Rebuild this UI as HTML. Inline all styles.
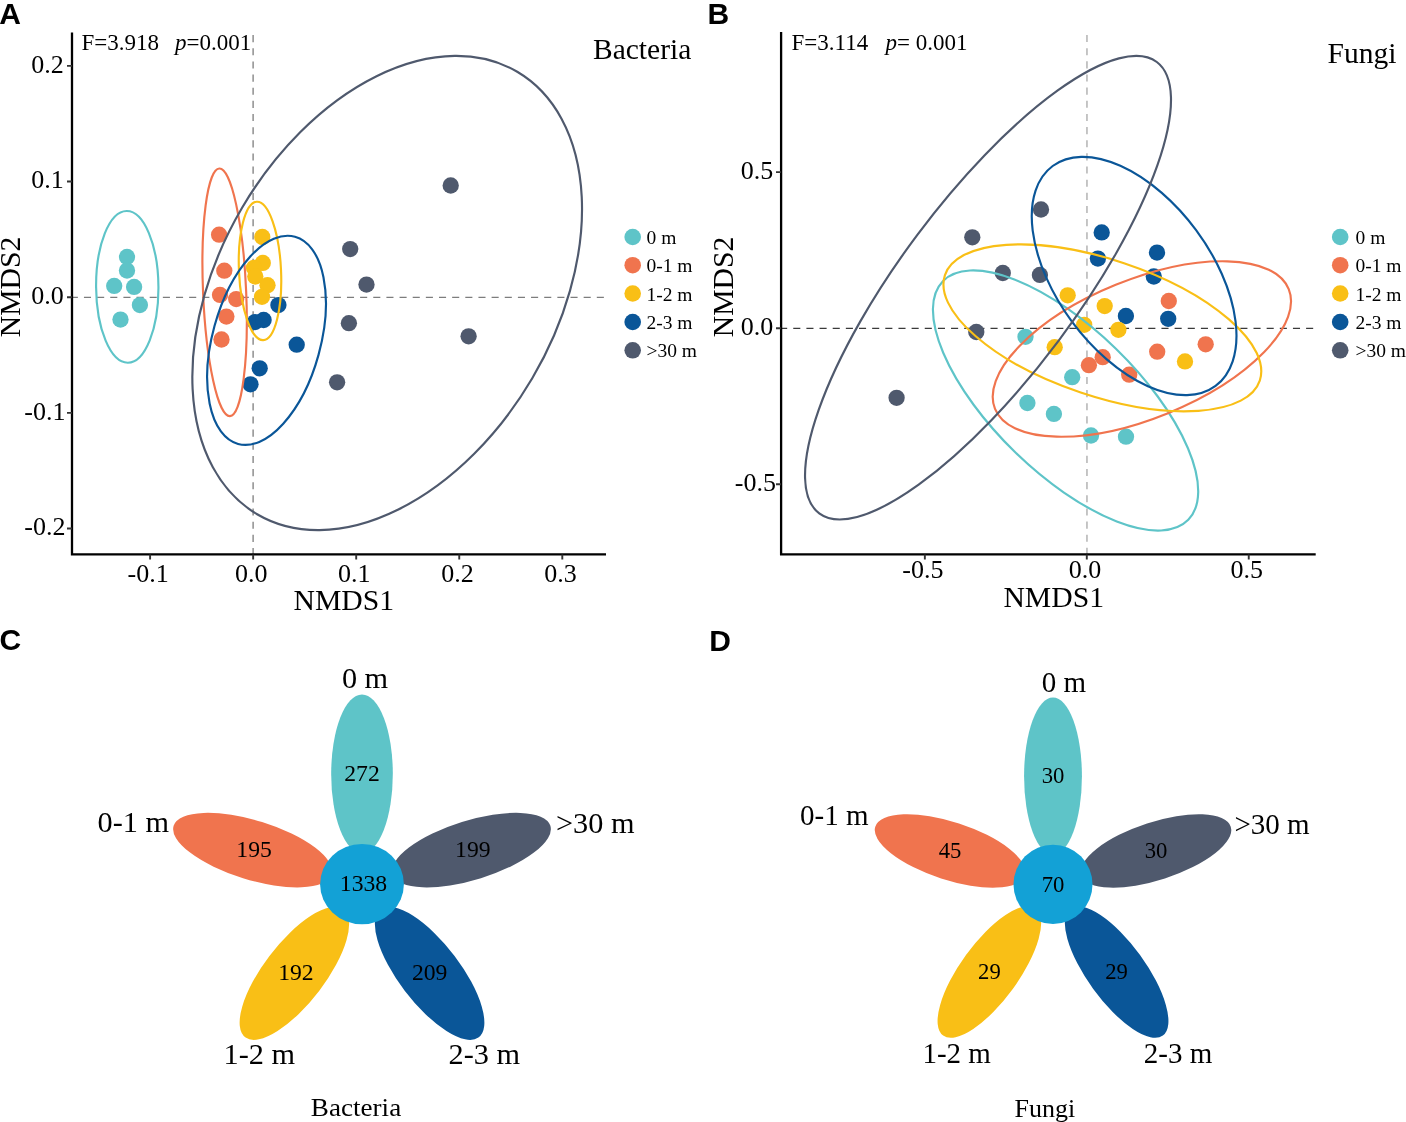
<!DOCTYPE html><html><head><meta charset="utf-8"><title>NMDS and flower plots</title><style>html,body{margin:0;padding:0;background:#fff;overflow:hidden;}svg{display:block;will-change:transform;}</style></head><body>
<svg width="1406" height="1122" viewBox="0 0 1406 1122">
<rect width="1406" height="1122" fill="#fff"/>
<g font-family="&quot;Liberation Sans&quot;, sans-serif" font-weight="700" font-size="30" fill="#000">
<text x="-0.8" y="24.3">A</text><text x="707.6" y="23.9">B</text><text x="-0.6" y="650.3">C</text><text x="709.2" y="650.6">D</text></g>
<line x1="70.8" y1="297.4" x2="604" y2="297.4" stroke="#7d7d7d" stroke-width="1.3" stroke-dasharray="7.08 6.07"/>
<line x1="253.1" y1="35.1" x2="253.1" y2="554" stroke="#7d7d7d" stroke-width="1.3" stroke-dasharray="7.08 6.07"/>
<circle cx="127.0" cy="257.0" r="8.15" fill="#5EC4C8"/><circle cx="127.0" cy="270.6" r="8.15" fill="#5EC4C8"/><circle cx="114.2" cy="285.9" r="8.15" fill="#5EC4C8"/><circle cx="134.1" cy="286.9" r="8.15" fill="#5EC4C8"/><circle cx="139.9" cy="305.1" r="8.15" fill="#5EC4C8"/><circle cx="120.5" cy="319.6" r="8.15" fill="#5EC4C8"/><circle cx="219.1" cy="234.7" r="8.15" fill="#F0744E"/><circle cx="224.3" cy="270.7" r="8.15" fill="#F0744E"/><circle cx="220.0" cy="294.9" r="8.15" fill="#F0744E"/><circle cx="236.2" cy="299.1" r="8.15" fill="#F0744E"/><circle cx="226.4" cy="316.6" r="8.15" fill="#F0744E"/><circle cx="221.5" cy="339.5" r="8.15" fill="#F0744E"/><circle cx="262.3" cy="237.0" r="8.15" fill="#F9BF16"/><circle cx="262.8" cy="262.9" r="8.15" fill="#F9BF16"/><circle cx="254.0" cy="267.8" r="8.15" fill="#F9BF16"/><circle cx="255.3" cy="276.6" r="8.15" fill="#F9BF16"/><circle cx="267.5" cy="285.2" r="8.15" fill="#F9BF16"/><circle cx="262.0" cy="296.8" r="8.15" fill="#F9BF16"/><circle cx="278.4" cy="305.1" r="8.15" fill="#0A5698"/><circle cx="255.0" cy="322.1" r="8.15" fill="#0A5698"/><circle cx="263.6" cy="320.0" r="8.15" fill="#0A5698"/><circle cx="296.7" cy="344.7" r="8.15" fill="#0A5698"/><circle cx="259.7" cy="368.3" r="8.15" fill="#0A5698"/><circle cx="250.5" cy="384.3" r="8.15" fill="#0A5698"/><circle cx="450.7" cy="185.5" r="8.15" fill="#4F596D"/><circle cx="350.2" cy="249.1" r="8.15" fill="#4F596D"/><circle cx="366.5" cy="284.6" r="8.15" fill="#4F596D"/><circle cx="348.9" cy="323.2" r="8.15" fill="#4F596D"/><circle cx="468.6" cy="336.3" r="8.15" fill="#4F596D"/><circle cx="337.1" cy="382.3" r="8.15" fill="#4F596D"/>
<ellipse cx="127.26" cy="286.88" rx="31.17" ry="75.87" transform="rotate(179.55 127.26 286.88)" fill="none" stroke="#5EC4C8" stroke-width="2.15"/><ellipse cx="224.62" cy="292.32" rx="21.55" ry="123.89" transform="rotate(177.54 224.62 292.32)" fill="none" stroke="#F0744E" stroke-width="2.15"/><ellipse cx="260.01" cy="270.94" rx="21.03" ry="69.25" transform="rotate(177.36 260.01 270.94)" fill="none" stroke="#F9BF16" stroke-width="2.15"/><ellipse cx="266.54" cy="340.33" rx="53.98" ry="107.43" transform="rotate(-164.64 266.54 340.33)" fill="none" stroke="#0A5698" stroke-width="2.15"/><ellipse cx="387.18" cy="293.02" rx="168.30" ry="256.62" transform="rotate(-149.55 387.18 293.02)" fill="none" stroke="#4F596D" stroke-width="2.15"/>
<path d="M72 32.4 V554.4 H606" fill="none" stroke="#000" stroke-width="2.3"/>
<path d="M67 65.90 H72 M67 181.55 H72 M67 297.20 H72 M67 412.85 H72 M67 528.50 H72 M150.10 554.4 V559.5 M253.15 554.4 V559.5 M356.20 554.4 V559.5 M459.25 554.4 V559.5 M562.30 554.4 V559.5 " stroke="#333" stroke-width="1.9" fill="none"/>
<g font-family="&quot;Liberation Serif&quot;, serif" font-size="26" fill="#000">
<text x="63.8" y="72.7" text-anchor="end">0.2</text>
<text x="63.8" y="188.3" text-anchor="end">0.1</text>
<text x="63.8" y="304.0" text-anchor="end">0.0</text>
<text x="65.4" y="419.7" text-anchor="end">-0.1</text>
<text x="65.4" y="535.3" text-anchor="end">-0.2</text>
<text x="148.2" y="582.2" text-anchor="middle">-0.1</text>
<text x="251.2" y="582.2" text-anchor="middle">0.0</text>
<text x="354.3" y="582.2" text-anchor="middle">0.1</text>
<text x="457.4" y="582.2" text-anchor="middle">0.2</text>
<text x="560.4" y="582.2" text-anchor="middle">0.3</text>
</g>
<text font-family="&quot;Liberation Serif&quot;, serif" font-size="29.7" x="343.8" y="609.8" text-anchor="middle">NMDS1</text>
<text font-family="&quot;Liberation Serif&quot;, serif" font-size="29.7" transform="translate(19.9 287) rotate(-90)" text-anchor="middle">NMDS2</text>
<text font-family="&quot;Liberation Serif&quot;, serif" font-size="23" x="81.5" y="50.3">F=3.918</text>
<text font-family="&quot;Liberation Serif&quot;, serif" font-size="23" x="175" y="50.3"><tspan font-style="italic">p</tspan>=0.001</text>
<text font-family="&quot;Liberation Serif&quot;, serif" font-size="29.5" x="593" y="59.1">Bacteria</text>
<circle cx="632.7" cy="237.0" r="8.3" fill="#5EC4C8"/>
<text font-family="&quot;Liberation Serif&quot;, serif" font-size="19.5" x="646.5" y="244.0">0 m</text>
<circle cx="632.7" cy="265.2" r="8.3" fill="#F0744E"/>
<text font-family="&quot;Liberation Serif&quot;, serif" font-size="19.5" x="646.5" y="272.2">0-1 m</text>
<circle cx="632.7" cy="293.5" r="8.3" fill="#F9BF16"/>
<text font-family="&quot;Liberation Serif&quot;, serif" font-size="19.5" x="646.5" y="300.5">1-2 m</text>
<circle cx="632.7" cy="322.0" r="8.3" fill="#0A5698"/>
<text font-family="&quot;Liberation Serif&quot;, serif" font-size="19.5" x="646.5" y="329.0">2-3 m</text>
<circle cx="632.7" cy="350.3" r="8.3" fill="#4F596D"/>
<text font-family="&quot;Liberation Serif&quot;, serif" font-size="19.5" x="646.5" y="357.3">&gt;30 m</text>
<line x1="780.1" y1="328.4" x2="1315" y2="328.4" stroke="#3a3a3a" stroke-width="1.3" stroke-dasharray="7.08 6.07"/>
<line x1="1086.95" y1="35.0" x2="1086.95" y2="554" stroke="#b8b8b8" stroke-width="1.6" stroke-dasharray="7.08 6.07"/>
<circle cx="1041.0" cy="209.5" r="8.15" fill="#4F596D"/><circle cx="972.3" cy="237.3" r="8.15" fill="#4F596D"/><circle cx="1002.8" cy="273.0" r="8.15" fill="#4F596D"/><circle cx="1039.9" cy="274.9" r="8.15" fill="#4F596D"/><circle cx="976.3" cy="332.0" r="8.15" fill="#4F596D"/><circle cx="896.6" cy="397.8" r="8.15" fill="#4F596D"/><circle cx="1101.7" cy="232.4" r="8.15" fill="#0A5698"/><circle cx="1097.9" cy="258.6" r="8.15" fill="#0A5698"/><circle cx="1157.0" cy="252.6" r="8.15" fill="#0A5698"/><circle cx="1153.8" cy="276.5" r="8.15" fill="#0A5698"/><circle cx="1125.9" cy="316.0" r="8.15" fill="#0A5698"/><circle cx="1168.2" cy="318.8" r="8.15" fill="#0A5698"/><circle cx="1067.7" cy="295.3" r="8.15" fill="#F9BF16"/><circle cx="1104.7" cy="306.1" r="8.15" fill="#F9BF16"/><circle cx="1084.2" cy="324.8" r="8.15" fill="#F9BF16"/><circle cx="1118.4" cy="329.8" r="8.15" fill="#F9BF16"/><circle cx="1054.7" cy="347.2" r="8.15" fill="#F9BF16"/><circle cx="1185.0" cy="361.4" r="8.15" fill="#F9BF16"/><circle cx="1168.8" cy="301.0" r="8.15" fill="#F0744E"/><circle cx="1205.7" cy="344.3" r="8.15" fill="#F0744E"/><circle cx="1157.2" cy="351.7" r="8.15" fill="#F0744E"/><circle cx="1102.7" cy="357.2" r="8.15" fill="#F0744E"/><circle cx="1088.9" cy="365.2" r="8.15" fill="#F0744E"/><circle cx="1129.2" cy="374.7" r="8.15" fill="#F0744E"/><circle cx="1025.5" cy="336.8" r="8.15" fill="#5EC4C8"/><circle cx="1072.2" cy="377.2" r="8.15" fill="#5EC4C8"/><circle cx="1027.4" cy="403.0" r="8.15" fill="#5EC4C8"/><circle cx="1053.9" cy="413.9" r="8.15" fill="#5EC4C8"/><circle cx="1091.0" cy="435.5" r="8.15" fill="#5EC4C8"/><circle cx="1126.0" cy="436.7" r="8.15" fill="#5EC4C8"/>
<ellipse cx="1065.57" cy="400.50" rx="171.14" ry="72.23" transform="rotate(-135.81 1065.57 400.50)" fill="none" stroke="#5EC4C8" stroke-width="2.15"/><ellipse cx="1141.87" cy="349.00" rx="158.59" ry="69.26" transform="rotate(157.82 1141.87 349.00)" fill="none" stroke="#F0744E" stroke-width="2.15"/><ellipse cx="1102.36" cy="327.83" rx="68.19" ry="166.02" transform="rotate(108.52 1102.36 327.83)" fill="none" stroke="#F9BF16" stroke-width="2.15"/><ellipse cx="1134.12" cy="275.99" rx="136.86" ry="77.14" transform="rotate(-126.52 1134.12 275.99)" fill="none" stroke="#0A5698" stroke-width="2.15"/><ellipse cx="988.02" cy="287.69" rx="88.26" ry="281.83" transform="rotate(-143.21 988.02 287.69)" fill="none" stroke="#4F596D" stroke-width="2.15"/>
<path d="M781.1 32 V554.4 H1315.7" fill="none" stroke="#000" stroke-width="2.3"/>
<path d="M776 172.10 H781 M776 328.20 H781 M776 484.30 H781 M924.85 554.4 V559.4 M1086.80 554.4 V559.4 M1248.75 554.4 V559.4 " stroke="#333" stroke-width="1.9" fill="none"/>
<g font-family="&quot;Liberation Serif&quot;, serif" font-size="26" fill="#000">
<text x="773.3" y="178.5" text-anchor="end">0.5</text>
<text x="773.3" y="334.6" text-anchor="end">0.0</text>
<text x="775.9" y="490.7" text-anchor="end">-0.5</text>
<text x="922.9" y="578.4" text-anchor="middle">-0.5</text>
<text x="1084.9" y="578.4" text-anchor="middle">0.0</text>
<text x="1246.8" y="578.4" text-anchor="middle">0.5</text>
</g>
<text font-family="&quot;Liberation Serif&quot;, serif" font-size="29.7" x="1053.7" y="606.6" text-anchor="middle">NMDS1</text>
<text font-family="&quot;Liberation Serif&quot;, serif" font-size="29.7" transform="translate(733.3 287) rotate(-90)" text-anchor="middle">NMDS2</text>
<text font-family="&quot;Liberation Serif&quot;, serif" font-size="23" x="791.5" y="50">F=3.114</text>
<text font-family="&quot;Liberation Serif&quot;, serif" font-size="23" x="885.5" y="50"><tspan font-style="italic">p</tspan>= 0.001</text>
<text font-family="&quot;Liberation Serif&quot;, serif" font-size="29.5" x="1327.5" y="63.3">Fungi</text>
<circle cx="1340.2" cy="237.0" r="8.3" fill="#5EC4C8"/>
<text font-family="&quot;Liberation Serif&quot;, serif" font-size="19.5" x="1355.5" y="244.0">0 m</text>
<circle cx="1340.2" cy="265.2" r="8.3" fill="#F0744E"/>
<text font-family="&quot;Liberation Serif&quot;, serif" font-size="19.5" x="1355.5" y="272.2">0-1 m</text>
<circle cx="1340.2" cy="293.5" r="8.3" fill="#F9BF16"/>
<text font-family="&quot;Liberation Serif&quot;, serif" font-size="19.5" x="1355.5" y="300.5">1-2 m</text>
<circle cx="1340.2" cy="322.0" r="8.3" fill="#0A5698"/>
<text font-family="&quot;Liberation Serif&quot;, serif" font-size="19.5" x="1355.5" y="329.0">2-3 m</text>
<circle cx="1340.2" cy="350.3" r="8.3" fill="#4F596D"/>
<text font-family="&quot;Liberation Serif&quot;, serif" font-size="19.5" x="1355.5" y="357.3">&gt;30 m</text>
<g transform="translate(362.0 884.15) scale(1.044 1)"><ellipse cx="110.2" cy="0" rx="79.44" ry="29.52" fill="#5EC4C8" transform="rotate(-90)"/><ellipse cx="110.2" cy="0" rx="79.44" ry="29.52" fill="#F0744E" transform="rotate(-162)"/><ellipse cx="110.2" cy="0" rx="79.44" ry="29.52" fill="#F9BF16" transform="rotate(-234)"/><ellipse cx="110.2" cy="0" rx="79.44" ry="29.52" fill="#0A5698" transform="rotate(-306)"/><ellipse cx="110.2" cy="0" rx="79.44" ry="29.52" fill="#4F596D" transform="rotate(-18)"/><ellipse cx="0" cy="0" rx="40.13" ry="40.15" fill="#13A1D6"/><text x="0.0" y="-103.5" text-anchor="middle" font-family="&quot;Liberation Serif&quot;, serif" font-size="22.7">272</text><text x="-103.4" y="-27.4" text-anchor="middle" font-family="&quot;Liberation Serif&quot;, serif" font-size="22.7">195</text><text x="-63.3" y="95.9" text-anchor="middle" font-family="&quot;Liberation Serif&quot;, serif" font-size="22.7">192</text><text x="64.8" y="95.9" text-anchor="middle" font-family="&quot;Liberation Serif&quot;, serif" font-size="22.7">209</text><text x="106.2" y="-27.4" text-anchor="middle" font-family="&quot;Liberation Serif&quot;, serif" font-size="22.7">199</text><text x="1.4" y="7.2" text-anchor="middle" font-family="&quot;Liberation Serif&quot;, serif" font-size="22.7">1338</text></g>
<g transform="translate(1053.0 884.4) scale(1.0 1)"><ellipse cx="108.25" cy="0" rx="78.63" ry="28.92" fill="#5EC4C8" transform="rotate(-90)"/><ellipse cx="108.25" cy="0" rx="78.63" ry="28.92" fill="#F0744E" transform="rotate(-162)"/><ellipse cx="108.25" cy="0" rx="78.63" ry="28.92" fill="#F9BF16" transform="rotate(-234)"/><ellipse cx="108.25" cy="0" rx="78.63" ry="28.92" fill="#0A5698" transform="rotate(-306)"/><ellipse cx="108.25" cy="0" rx="78.63" ry="28.92" fill="#4F596D" transform="rotate(-18)"/><ellipse cx="0" cy="0" rx="39.50" ry="39.7" fill="#13A1D6"/><text x="0.0" y="-101.5" text-anchor="middle" font-family="&quot;Liberation Serif&quot;, serif" font-size="22.7">30</text><text x="-103.0" y="-26.8" text-anchor="middle" font-family="&quot;Liberation Serif&quot;, serif" font-size="22.7">45</text><text x="-63.6" y="94.3" text-anchor="middle" font-family="&quot;Liberation Serif&quot;, serif" font-size="22.7">29</text><text x="63.6" y="94.3" text-anchor="middle" font-family="&quot;Liberation Serif&quot;, serif" font-size="22.7">29</text><text x="103.0" y="-26.8" text-anchor="middle" font-family="&quot;Liberation Serif&quot;, serif" font-size="22.7">30</text><text x="0.0" y="7.2" text-anchor="middle" font-family="&quot;Liberation Serif&quot;, serif" font-size="22.7">70</text></g>
<text font-family="&quot;Liberation Serif&quot;, serif" font-size="29" text-anchor="middle" transform="translate(365.0 687.5) scale(1.044 1)">0 m</text>
<text font-family="&quot;Liberation Serif&quot;, serif" font-size="29" text-anchor="start" transform="translate(97.5 832.3) scale(1.044 1)">0-1 m</text>
<text font-family="&quot;Liberation Serif&quot;, serif" font-size="29" text-anchor="start" transform="translate(556.0 832.5) scale(1.044 1)">&gt;30 m</text>
<text font-family="&quot;Liberation Serif&quot;, serif" font-size="29" text-anchor="start" transform="translate(223.5 1064.3) scale(1.044 1)">1-2 m</text>
<text font-family="&quot;Liberation Serif&quot;, serif" font-size="29" text-anchor="start" transform="translate(448.5 1064.3) scale(1.044 1)">2-3 m</text>
<text font-family="&quot;Liberation Serif&quot;, serif" font-size="26" text-anchor="middle" transform="translate(356.0 1115.8) scale(1.044 1)">Bacteria</text>
<text font-family="&quot;Liberation Serif&quot;, serif" font-size="29" text-anchor="middle" transform="translate(1064.0 692.0) scale(1.0 1)">0 m</text>
<text font-family="&quot;Liberation Serif&quot;, serif" font-size="29" text-anchor="start" transform="translate(800.0 825.3) scale(1.0 1)">0-1 m</text>
<text font-family="&quot;Liberation Serif&quot;, serif" font-size="29" text-anchor="start" transform="translate(1234.5 834.0) scale(1.0 1)">&gt;30 m</text>
<text font-family="&quot;Liberation Serif&quot;, serif" font-size="29" text-anchor="start" transform="translate(922.4 1062.7) scale(1.0 1)">1-2 m</text>
<text font-family="&quot;Liberation Serif&quot;, serif" font-size="29" text-anchor="start" transform="translate(1143.8 1062.7) scale(1.0 1)">2-3 m</text>
<text font-family="&quot;Liberation Serif&quot;, serif" font-size="26" text-anchor="middle" transform="translate(1044.8 1117.3) scale(1.0 1)">Fungi</text>
</svg></body></html>
